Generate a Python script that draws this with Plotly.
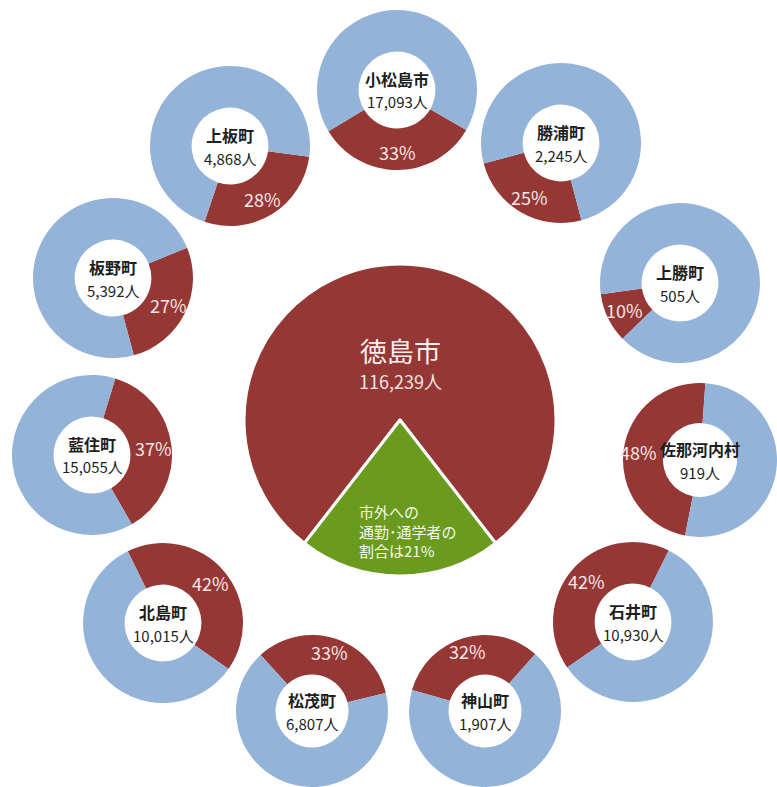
import math
import plotly.graph_objects as go

# ---- data ----
towns = ["小松島市", "勝浦町", "上勝町", "佐那河内村", "石井町", "神山町",
         "松茂町", "北島町", "藍住町", "板野町", "上板町"]
commuters = [17093, 2245, 505, 919, 10930, 1907, 6807, 10015, 15055, 5392, 4868]
share_pct = [33, 25, 10, 48, 42, 32, 33, 42, 37, 27, 28]
city_name = "徳島市"
city_total = 116239
city_out_pct = 21

# ---- layout (pixel geometry) ----
W, H = 777, 787
CX, CY, CR = 400, 420, 156
DONUT_R = 80
LABEL_RHO = 62
donut_xy = [(397, 90), (561, 143), (680, 283), (700, 460), (633, 622), (485, 711),
            (312, 711), (163, 623), (92, 455), (113, 278), (230, 146)]

RED = "#953735"
BLUE = "#93b3d8"
GREEN = "#6b9b1e"
FONT = "Noto Sans CJK JP"


def domain_for(cx, cy, r):
    return dict(x=[(cx - r) / W, (cx + r) / W], y=[1 - (cy + r) / H, 1 - (cy - r) / H])


def norm(a):
    while a > 180:
        a -= 360
    while a <= -180:
        a += 360
    return a


def ann(px, py, text, size, color, bold=False, **kw):
    d = dict(x=px / W, y=1 - py / H, xref="paper", yref="paper",
             text=f"<b>{text}</b>" if bold else text, showarrow=False,
             xanchor="center", yanchor="middle",
             font=dict(size=size, color=color, family=FONT))
    d.update(kw)
    return d


fig = go.Figure()

# central pie
rot_c = norm(180 + city_out_pct * 1.8)
fig.add_trace(go.Pie(
    values=[100 - city_out_pct, city_out_pct],
    marker=dict(colors=[RED, GREEN], line=dict(color="white", width=3)),
    sort=False, direction="clockwise", rotation=rot_c,
    textinfo="none", hoverinfo="skip", showlegend=False,
    domain=domain_for(CX, CY, CR),
))

annotations = []
for name, pop, p, (cx, cy) in zip(towns, commuters, share_pct, donut_xy):
    r = min(DONUT_R, cx, W - cx, cy, H - cy)
    theta = math.degrees(math.atan2(CX - cx, -(CY - cy)))
    rot = norm(theta - p * 1.8)
    fig.add_trace(go.Pie(
        values=[p, 100 - p],
        marker=dict(colors=[RED, BLUE]),
        hole=0.48, sort=False, direction="clockwise", rotation=rot,
        textinfo="none", hoverinfo="skip", showlegend=False,
        domain=domain_for(cx, cy, r),
    ))
    t = math.radians(theta)
    lx = cx + LABEL_RHO * math.sin(t)
    ly = cy - LABEL_RHO * math.cos(t)
    annotations.append(ann(lx, ly, f"{p}%", 18, "#f7e6e5"))
    annotations.append(ann(cx, cy - 11, name, 16, "#1e1e1e", bold=True))
    annotations.append(ann(cx, cy + 12, f"{pop:,}人", 15, "#1e1e1e"))

# central labels
annotations.append(ann(CX, 350, city_name, 27, "#f8eeee"))
annotations.append(ann(CX, 381, f"{city_total:,}人", 18, "#f3e2e2"))
annotations.append(ann(357, 531, f"市外への<br>通勤･通学者の<br>割合は{city_out_pct}%",
                       15, "#f4f8ea", xanchor="left", align="left"))

fig.update_layout(
    width=W, height=H,
    margin=dict(l=0, r=0, t=0, b=0),
    paper_bgcolor="white", plot_bgcolor="white",
    annotations=annotations,
    font=dict(family=FONT),
)

fig.write_html("out.html", config={"displayModeBar": False},
               post_script="document.body.style.margin='0';")
